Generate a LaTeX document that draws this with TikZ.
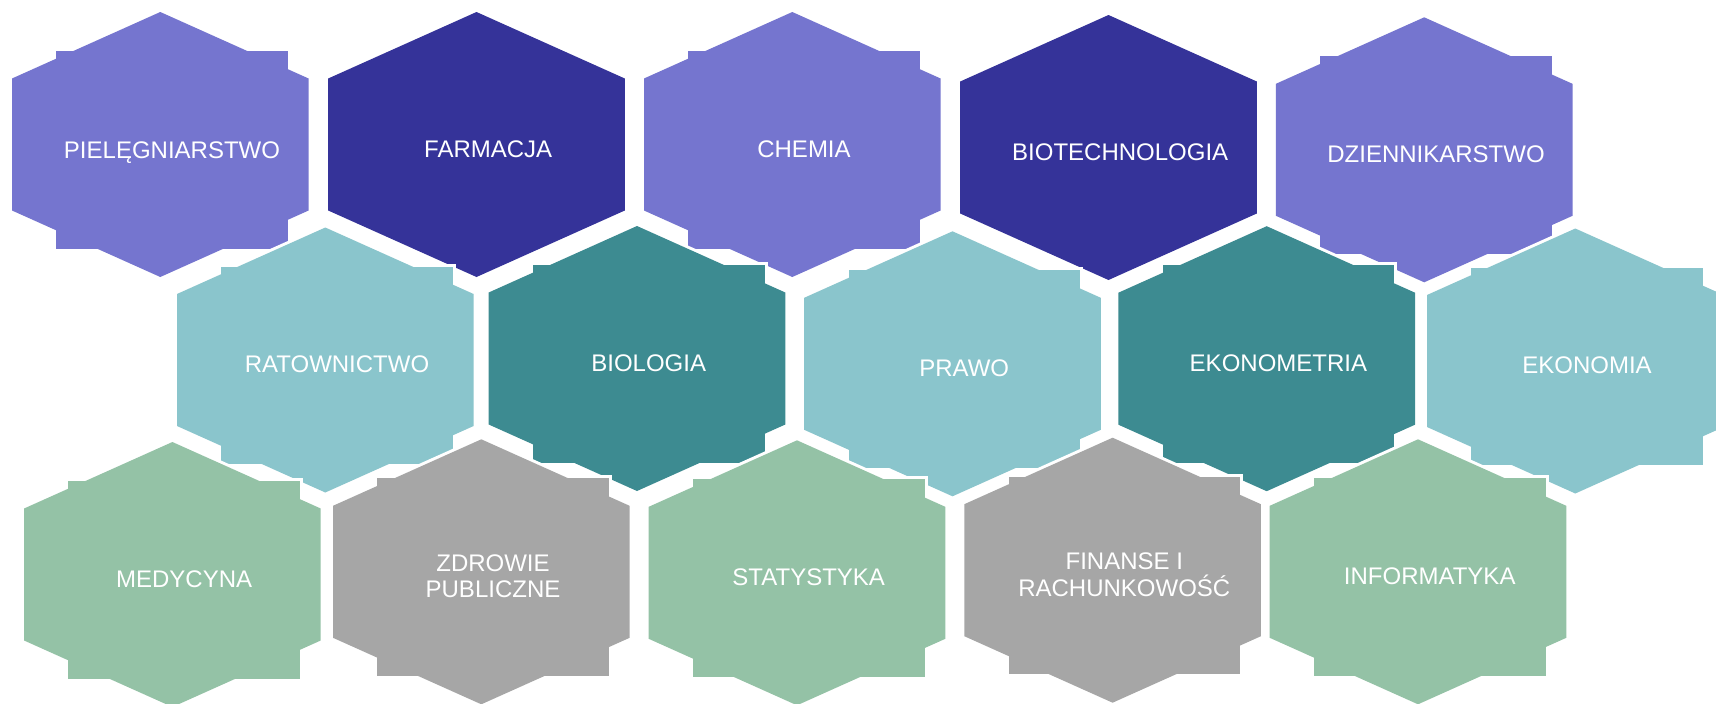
\documentclass[tikz,border=0pt]{standalone}
\usepackage{fontspec}
\setmainfont{Liberation Sans}
\usepackage{tikz}
\usepackage{xcolor}
\definecolor{lila}{HTML}{7575CF}
\definecolor{granat}{HTML}{353399}
\definecolor{jturkus}{HTML}{8AC5CC}
\definecolor{cturkus}{HTML}{3D8B91}
\definecolor{zielen}{HTML}{94C2A6}
\definecolor{szary}{HTML}{A6A6A6}

\begin{document}
\begin{tikzpicture}[
  x=1pt, y=-1pt,
  halo/.style={draw=white, line width=6pt, line join=miter},
  obrys/.style={insert path={(0,-132.5) -- (148.3,-66) -- (148.3,66) -- (0,132.5) -- (-148.3,66) -- (-148.3,-66) -- cycle}},
  ramka/.style={insert path={(-104,-93.5) rectangle (127.6,104.2)}},
  napis/.style={text=white, font=\fontsize{24}{26.5}\selectfont, align=center, inner sep=0pt},
  pics/heks/.style={code={
    \path[halo, obrys];
    \fill[#1, obrys];
  }},
  pics/plaster/.style={code={
    \path[halo, obrys];
    \path[halo, ramka];
    \fill[#1, obrys];
    \fill[#1, ramka];
  }},
]
\path[use as bounding box, clip] (0,0) rectangle (1716,704);
% rzad 1: fiolet / granat
\pic at (160.3,144.5) {plaster=lila};
\pic at (476.5,144.5) {heks=granat};
\pic at (792.3,144.5) {plaster=lila};
\pic at (1108.5,147.5) {heks=granat};
\pic at (1424.2,149.8) {plaster=lila};
\node[napis] (piel) at (172,152.5) {PIELĘGNIARSTWO};
\node[napis] (farm) at (488.2,149) {FARMACJA};
\node[napis] (chem) at (804,149) {CHEMIA};
\node[napis] (biot) at (1120.2,152) {BIOTECHNOLOGIA};
\node[napis] (dzien) at (1436,154.3) {DZIENNIKARSTWO};
% rzad 2: turkus jasny / ciemny
\pic at (325.3,360) {plaster=jturkus};
\pic at (637,358.5) {plaster=cturkus};
\pic at (952.5,363.8) {plaster=jturkus};
\pic at (1266.7,358.7) {plaster=cturkus};
\pic at (1575.3,361) {plaster=jturkus};
\node[napis] (ratow) at (337,364.5) {RATOWNICTWO};
\node[napis] (biol) at (648.7,363) {BIOLOGIA};
\node[napis] (prawo) at (964.2,368.3) {PRAWO};
\node[napis] (ekmetr) at (1278.4,363.2) {EKONOMETRIA};
\node[napis] (ekon) at (1587,365.5) {EKONOMIA};
% rzad 3: zielen / szarosc
\pic at (172.4,574.5) {plaster=zielen};
\pic at (481.3,571.8) {plaster=szary};
\pic at (797,572.8) {plaster=zielen};
\pic at (1112.6,570.2) {plaster=szary};
\pic at (1418,571.8) {plaster=zielen};
\node[napis] (medyc) at (184.1,579) {MEDYCYNA};
\node[napis] (zdrow) at (493,576.3) {ZDROWIE\\ PUBLICZNE};
\node[napis] (stat) at (808.7,577.3) {STATYSTYKA};
\node[napis] (finans) at (1124.3,574.7) {FINANSE I\\ RACHUNKOWOŚĆ};
\node[napis] (inform) at (1429.7,576.3) {INFORMATYKA};
\end{tikzpicture}
\end{document}
